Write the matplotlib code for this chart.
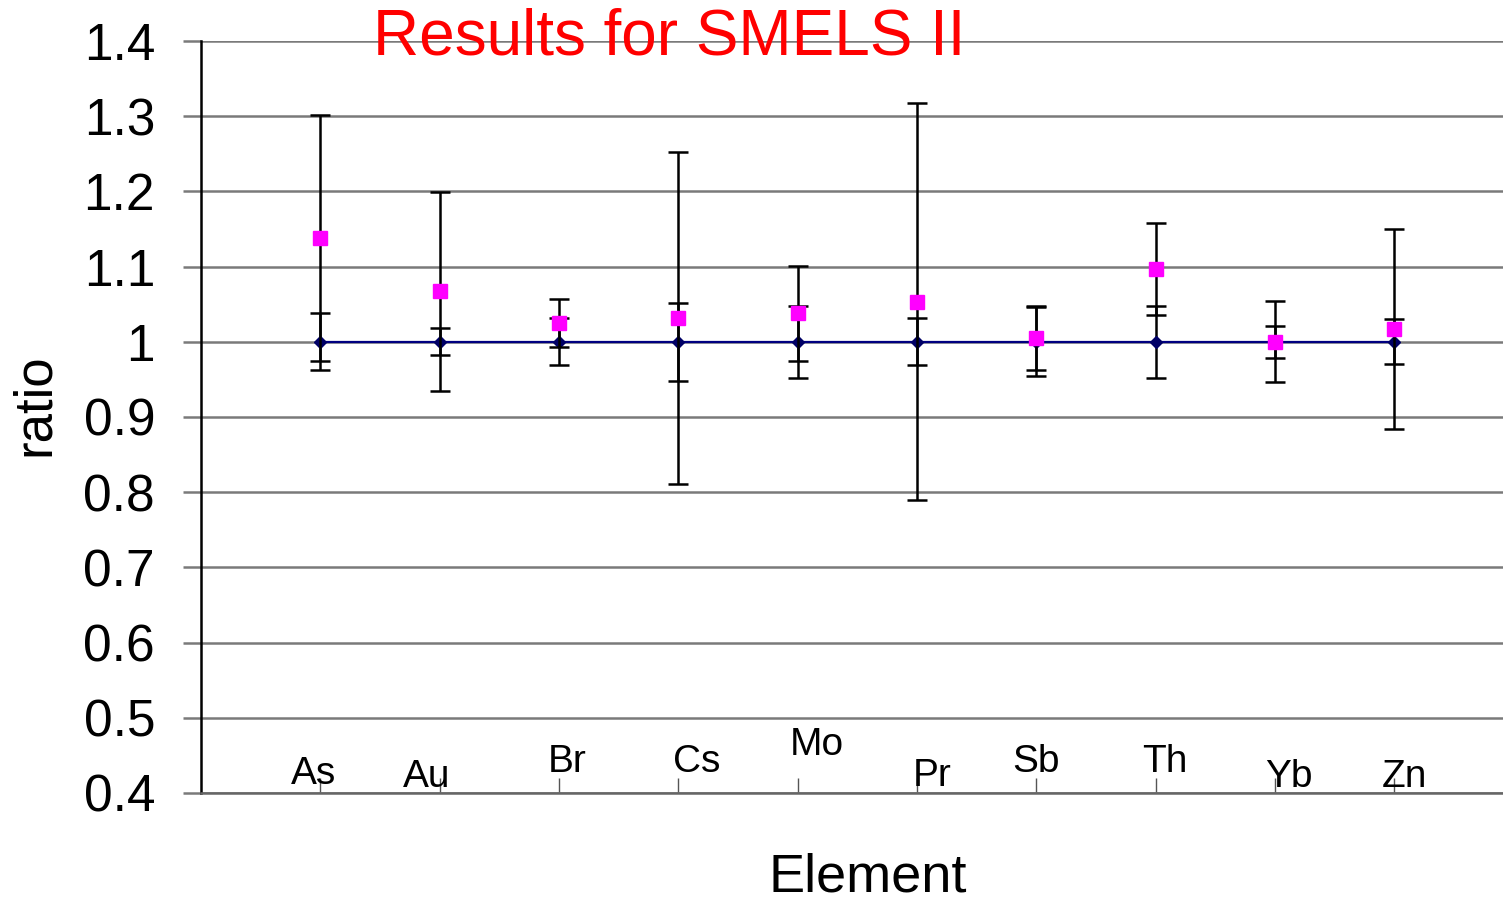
import matplotlib.pyplot as plt
import numpy as np

# Data
elements = ["As", "Au", "Br", "Cs", "Mo", "Pr", "Sb", "Th", "Yb", "Zn"]
reference = [1, 1, 1, 1, 1, 1, 1, 1, 1, 1]
reference_err = [0.038, 0.018, 0.031, 0.052, 0.048, 0.031, 0.046, 0.048, 0.021, 0.030]
smels = [1.138, 1.067, 1.025, 1.032, 1.038, 1.053, 1.005, 1.097, 1.000, 1.017]
smels_err = [0.164, 0.132, 0.032, 0.221, 0.063, 0.264, 0.042, 0.061, 0.054, 0.133]

# label placement inside the axes (x offset, y position)
label_dx = [-0.06, -0.11, 0.07, 0.15, 0.16, 0.13, 0.0, 0.08, 0.12, 0.08]
label_y = [0.425, 0.421, 0.441, 0.441, 0.464, 0.423, 0.441, 0.441, 0.421, 0.421]

plt.rcParams['font.family'] = ['Liberation Sans', 'DejaVu Sans']

fig = plt.figure(figsize=(15.03, 9.01), dpi=100)
ax = fig.add_axes([0.1337, 0.1199, 0.8663, 0.8346])

x = np.arange(len(elements))

ax.errorbar(x, reference, yerr=reference_err, fmt='none', ecolor='black',
            elinewidth=1.8, capsize=7, capthick=1.8, zorder=3)
ax.plot(x, reference, color='#000080', lw=1.6, marker='D', ms=6,
        mfc='#000066', mec='#000066', zorder=4)
ax.errorbar(x, smels, yerr=smels_err, fmt='none', ecolor='black',
            elinewidth=1.8, capsize=7, capthick=1.8, zorder=5)
ax.plot(x, smels, ls='none', marker='s', ms=10, color='#ff00ff', zorder=6)

ax.set_xlim(-1, 9.91)
ax.set_ylim(0.4, 1.4)
ax.set_yticks(np.arange(0.4, 1.41, 0.1))
ax.set_yticklabels(["0.4", "0.5", "0.6", "0.7", "0.8", "0.9", "1",
                    "1.1", "1.2", "1.3", "1.4"])
ax.yaxis.grid(True, color='#7a7a7a', lw=1.8)
ax.set_axisbelow(True)

ax.set_xticks(x)
ax.set_xticklabels([])
ax.tick_params(axis='x', direction='in', length=11, width=1, color='#555555')
ax.tick_params(axis='y', direction='out', length=13, width=1.8, color='#7a7a7a',
               labelsize=37, pad=20)

for i, name in enumerate(elements):
    ax.text(x[i] + label_dx[i], label_y[i], name, fontsize=28,
            ha='center', va='center', color='black', zorder=7)

for s in ['top', 'right']:
    ax.spines[s].set_visible(False)
ax.spines['left'].set_color('black')
ax.spines['left'].set_linewidth(1.8)
ax.spines['bottom'].set_color('#666666')
ax.spines['bottom'].set_linewidth(1.8)

# axis titles
fig.text(0.0233, 0.5505, "ratio", fontsize=38, rotation=90,
         ha='center', va='center')
fig.text(0.5775, 0.0266, "Element", fontsize=39, ha='center', va='center')

fig.text(0.445, 0.958, "Results for SMELS II", color='#ff0000', fontsize=46,
         ha='center', va='center')

fig.savefig("out.png", dpi=100)
